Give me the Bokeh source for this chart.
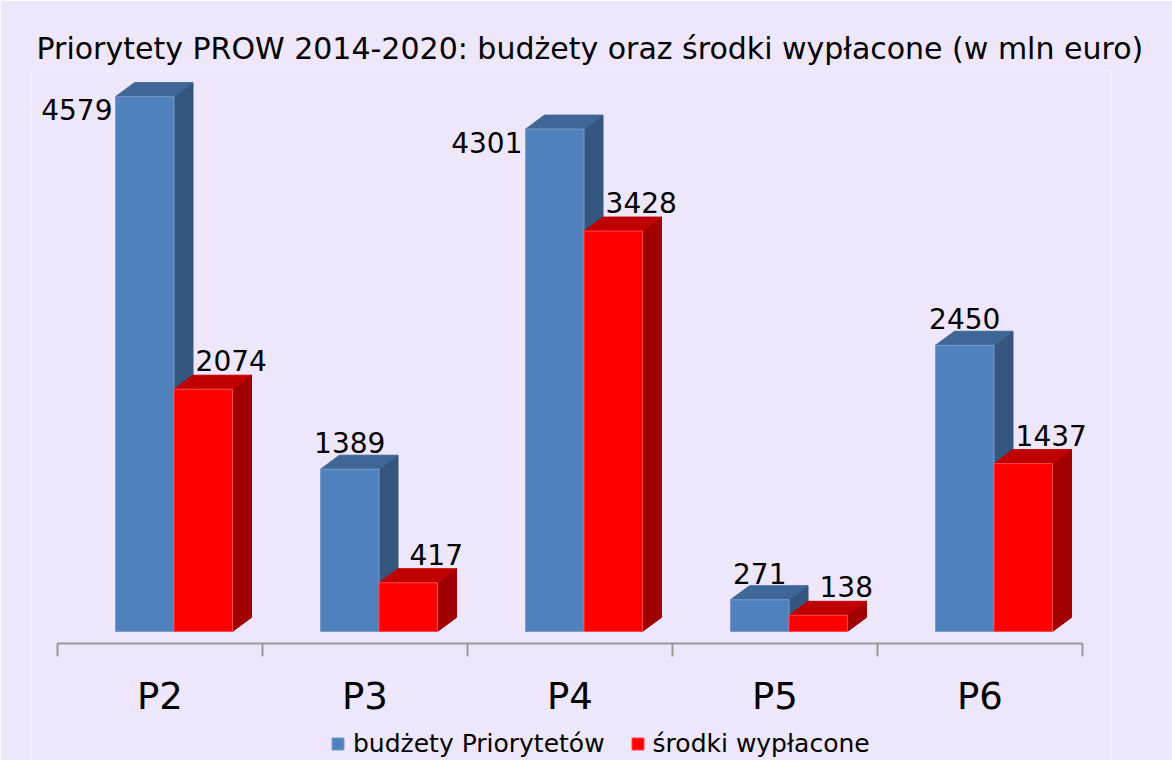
import numpy as np
from bokeh.plotting import figure
from bokeh.models import ColumnDataSource, FixedTicker, Legend, LegendItem, Title, Range1d
from bokeh.core.properties import value
from bokeh.embed import file_html
from bokeh.resources import INLINE

# ---- data ----
categories = ["P2", "P3", "P4", "P5", "P6"]
budzety = [4579, 1389, 4301, 271, 2450]
wyplacone = [2074, 417, 3428, 138, 1437]
series_names = ["budżety Priorytetów", "środki wypłacone"]
title_text = "Priorytety PROW 2014-2020: budżety oraz środki wypłacone (w mln euro)"

# ---- style ----
FONT = "DejaVu Sans"
BG = "#EEE6FA"
blue = dict(front="#4F81BD", side="#34567F", top="#3E6696", edge="#7A9CCB")
red = dict(front="#FF0000", side="#A00000", top="#C00000", edge="#FF4A4A")
bar_w = 58.5 / 205.0
offsets = [-44.5 / 205.0, 14.0 / 205.0]
depth_dx = 19.0 / 205.0
depth_dy = 120.0
axis_y = -103
blue_label_side = ["left", "above", "left", "above", "above"]

p = figure(frame_width=1080, frame_height=690, output_backend="svg", toolbar_location=None,
           x_range=Range1d(-0.5 - 27 / 205.0, 4.5 + 28 / 205.0),
           y_range=Range1d(-1105, 4803),
           y_axis_location=None, min_border_left=30, min_border_right=62,
           min_border_top=70, min_border_bottom=0)
p.background_fill_color = BG
p.border_fill_color = BG
p.outline_line_color = None
p.grid.visible = False

def bar3d(i, val, off):
    x0 = i + off
    x1 = x0 + bar_w
    side = ([x1, x1 + depth_dx, x1 + depth_dx, x1], [0, depth_dy, val + depth_dy, val])
    top = ([x0, x1, x1 + depth_dx, x0 + depth_dx], [val, val, val + depth_dy, val + depth_dy])
    front = ([x0, x1, x1, x0], [0, 0, val, val])
    return side, top, front

renderers = []
for s, (vals, col) in enumerate([(budzety, blue), (wyplacone, red)]):
    sides = {"xs": [], "ys": []}
    tops = {"xs": [], "ys": []}
    fronts = {"xs": [], "ys": []}
    for i, v in enumerate(vals):
        sd, tp, fr = bar3d(i, v, offsets[s])
        sides["xs"].append(sd[0]); sides["ys"].append(sd[1])
        tops["xs"].append(tp[0]); tops["ys"].append(tp[1])
        fronts["xs"].append(fr[0]); fronts["ys"].append(fr[1])
    p.patches("xs", "ys", source=ColumnDataSource(sides), fill_color=col["side"],
              line_color=col["side"], line_width=1)
    p.patches("xs", "ys", source=ColumnDataSource(tops), fill_color=col["top"],
              line_color=col["top"], line_width=1)
    r = p.patches("xs", "ys", source=ColumnDataSource(fronts), fill_color=col["front"],
                  line_color=col["edge"], line_width=1)
    renderers.append(r)

# ---- data labels ----
idx = np.arange(len(categories))
bl = [i for i in idx if blue_label_side[i] == "left"]
ba = [i for i in idx if blue_label_side[i] == "above"]
src_bl = ColumnDataSource(dict(x=[i + offsets[0] for i in bl], y=[budzety[i] for i in bl],
                               t=[str(budzety[i]) for i in bl]))
src_ba = ColumnDataSource(dict(x=[i + offsets[0] + bar_w / 2 for i in ba],
                               y=[budzety[i] + depth_dy for i in ba],
                               t=[str(budzety[i]) for i in ba]))
src_r = ColumnDataSource(dict(x=[i + offsets[1] + bar_w / 2 for i in idx],
                              y=[v + depth_dy for v in wyplacone],
                              t=[str(v) for v in wyplacone]))
lbl = dict(text="t", text_font=value(FONT), text_font_size="28px", text_color="black")
p.text("x", "y", source=src_bl, text_align="right", text_baseline="middle",
       x_offset=-3, y_offset=13, **lbl)
p.text("x", "y", source=src_ba, text_align="center", text_baseline="bottom",
       y_offset=-2, **lbl)
p.text("x", "y", source=src_r, text_align="center", text_baseline="bottom",
       x_offset=28, y_offset=-4, **lbl)

# ---- axis ----
ax = p.xaxis[0]
ax.fixed_location = axis_y
ax.bounds = (-0.5, 4.5)
ax.ticker = FixedTicker(ticks=list(range(len(categories))),
                        minor_ticks=[i - 0.5 for i in range(len(categories) + 1)])
ax.major_label_overrides = {i: c for i, c in enumerate(categories)}
ax.major_tick_out = 0
ax.major_tick_in = 0
ax.minor_tick_in = 0
ax.minor_tick_out = 13
ax.minor_tick_line_color = "#999999"
ax.minor_tick_line_width = 2
ax.axis_line_color = "#999999"
ax.axis_line_width = 2
ax.major_label_text_font = FONT
ax.major_label_text_font_size = "37px"
ax.major_label_text_color = "black"
ax.major_label_standoff = 19

# ---- title ----
p.add_layout(Title(text=title_text, align="left", offset=6, text_font=FONT,
                   text_font_size="30px", text_font_style="normal",
                   text_color="black"), "above")

# ---- legend ----
legend = Legend(items=[LegendItem(label=series_names[0], renderers=[renderers[0]]),
                       LegendItem(label=series_names[1], renderers=[renderers[1]])],
                orientation="horizontal", location=(300, 2),
                background_fill_alpha=0, border_line_color=None,
                label_text_font=FONT, label_text_font_size="25px", label_text_color="black",
                glyph_width=15, glyph_height=15, spacing=25, padding=0, margin=0,
                label_standoff=8, label_height=20)
p.add_layout(legend)

open("out.html", "w").write(file_html(p, INLINE))
